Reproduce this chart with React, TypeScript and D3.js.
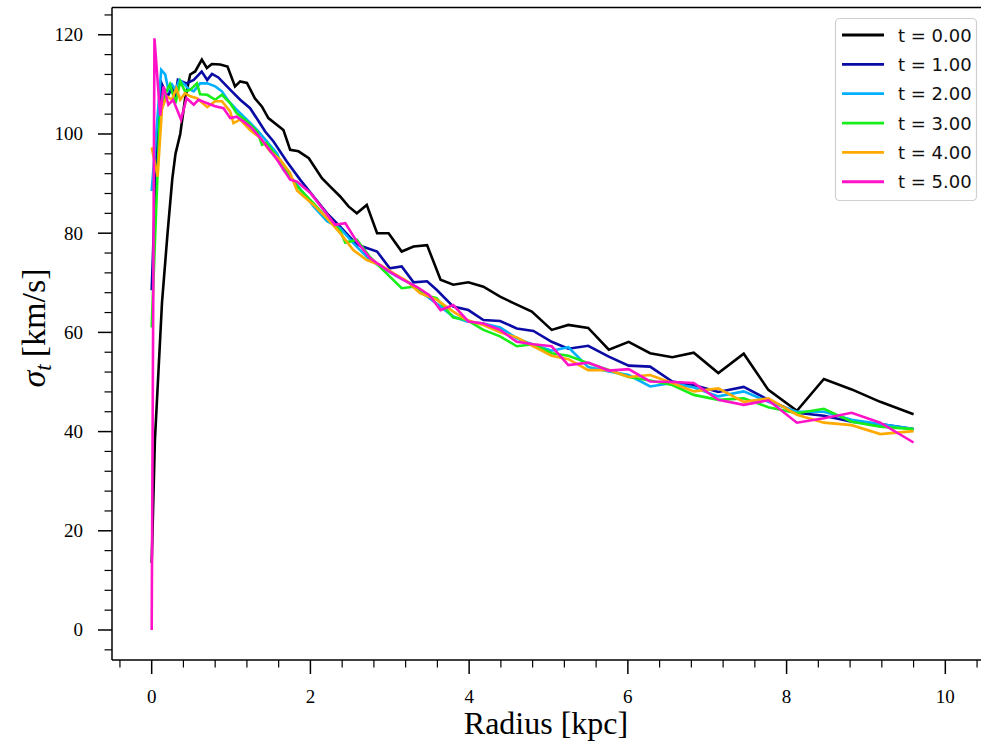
import React from "react";
import * as d3 from "d3";

const seriesLabels = ["t = 0.00", "t = 1.00", "t = 2.00", "t = 3.00", "t = 4.00", "t = 5.00"];
const seriesColors = ["#000000", "#0a0aa5", "#00b0ff", "#18ee18", "#ffaa00", "#ff12c8"];

const radiusT0 = [0, 0.04, 0.13, 0.2, 0.26, 0.3, 0.36, 0.42, 0.485, 0.548, 0.632, 0.695, 0.758, 0.863, 0.955, 1.05, 1.115, 1.2, 1.3, 1.39, 1.47, 1.66, 1.745, 1.85, 1.98, 2.145, 2.25, 2.375, 2.48, 2.585, 2.71, 2.84, 2.985, 3.15, 3.3, 3.47, 3.64, 3.8, 3.99, 4.18, 4.39, 4.56, 4.79, 5.04, 5.25, 5.5, 5.76, 6.01, 6.28, 6.56, 6.83, 7.14, 7.46, 7.77, 8.13, 8.47, 8.82, 9.18, 9.6];
const sigmaT0 = [13.5, 38, 66, 80, 91, 96, 100, 107, 112, 112.6, 115, 113.3, 114.1, 114, 113.6, 109.6, 110.6, 110.3, 107.2, 105.5, 103.2, 100.8, 96.8, 96.5, 95.1, 91.1, 89.4, 87.4, 85.4, 84.0, 85.7, 80.0, 80.0, 76.3, 77.3, 77.6, 70.6, 69.6, 70.1, 69.2, 67.2, 65.9, 64.2, 60.5, 61.5, 60.9, 56.5, 58.1, 55.8, 55.0, 55.9, 51.8, 55.7, 48.4, 44.2, 50.6, 48.5, 46.0, 43.5];

const radiusT1 = [0, 0.07, 0.13, 0.2, 0.26, 0.3, 0.33, 0.44, 0.53, 0.63, 0.7, 0.76, 0.84, 0.93, 1.01, 1.115, 1.24, 1.35, 1.43, 1.535, 1.7, 1.87, 2.04, 2.21, 2.375, 2.585, 2.84, 3.0, 3.15, 3.3, 3.47, 3.59, 3.8, 3.99, 4.18, 4.39, 4.6, 4.81, 5.04, 5.25, 5.5, 5.76, 6.01, 6.28, 6.56, 6.83, 7.14, 7.46, 7.77, 8.13, 8.47, 8.82, 9.18, 9.6];
const sigmaT1 = [68.5, 100, 110, 107.5, 109.5, 108, 110.9, 110.2, 110.9, 112.6, 110.9, 112.1, 111.4, 109.9, 108.6, 106.9, 105.2, 102.5, 100.5, 98.5, 94.5, 90.8, 87.4, 84.0, 81.3, 77.7, 76.3, 72.9, 73.3, 70.1, 70.3, 68.6, 65.2, 64.5, 62.5, 62.3, 60.8, 60.3, 58.1, 56.7, 57.3, 55.1, 53.3, 53.1, 50.1, 49.4, 48.0, 49.0, 46.4, 43.8, 43.2, 42.0, 41.5, 40.5];

const radiusT2 = [0, 0.12, 0.17, 0.21, 0.255, 0.3, 0.35, 0.4, 0.46, 0.53, 0.61, 0.7, 0.8, 0.885, 0.97, 1.07, 1.2, 1.33, 1.45, 1.58, 1.66, 1.83, 2.04, 2.21, 2.375, 2.54, 2.75, 2.92, 3.09, 3.26, 3.45, 3.64, 3.8, 3.97, 4.18, 4.39, 4.6, 4.81, 5.04, 5.25, 5.5, 5.76, 6.01, 6.28, 6.56, 6.83, 7.14, 7.46, 7.77, 8.13, 8.47, 8.82, 9.18, 9.6];
const sigmaT2 = [88.5, 112.9, 112, 108.9, 110, 108.9, 110.9, 110.2, 109.2, 108.6, 110.2, 110.2, 109.6, 108.6, 106.6, 104.9, 102.9, 100.8, 98.5, 96.1, 92.8, 89.8, 85.4, 82.4, 81.0, 78.0, 74.6, 72.9, 71.3, 69.9, 67.5, 65.2, 63.2, 62.2, 61.8, 61.0, 58.8, 57.5, 56.3, 57.0, 53.0, 52.1, 51.4, 49.1, 49.8, 48.9, 47.1, 48.1, 46.0, 44.0, 44.0, 42.4, 41.5, 40.5];

const radiusT3 = [0, 0.1, 0.17, 0.23, 0.3, 0.36, 0.42, 0.485, 0.57, 0.61, 0.7, 0.8, 0.885, 0.99, 1.07, 1.2, 1.33, 1.39, 1.45, 1.62, 1.83, 2.04, 2.21, 2.375, 2.44, 2.585, 2.75, 2.92, 3.15, 3.3, 3.45, 3.59, 3.8, 3.97, 4.18, 4.39, 4.6, 4.81, 5.04, 5.25, 5.5, 5.76, 6.01, 6.28, 6.56, 6.83, 7.14, 7.46, 7.77, 8.13, 8.47, 8.82, 9.18, 9.6];
const sigmaT3 = [61, 103, 108, 110, 106.2, 110.6, 108.6, 108.9, 110.2, 108, 107.9, 106.9, 107.9, 106.2, 104.2, 102.5, 100.5, 97.8, 98.2, 94.5, 89.5, 86, 83, 80.5, 78.1, 78.7, 75.2, 72.5, 68.9, 69.2, 67.5, 66.9, 63.0, 62.5, 60.5, 59.2, 57.2, 57.6, 55.8, 55.3, 53.8, 52.4, 51.0, 50.3, 49.4, 47.4, 46.4, 46.7, 44.9, 43.7, 44.6, 42.0, 41.0, 40.5];

const radiusT4 = [0, 0.075, 0.13, 0.19, 0.255, 0.31, 0.36, 0.42, 0.485, 0.57, 0.7, 0.8, 0.885, 0.99, 1.03, 1.115, 1.24, 1.37, 1.49, 1.62, 1.745, 1.83, 2.04, 2.21, 2.375, 2.54, 2.71, 2.88, 3.05, 3.22, 3.38, 3.59, 3.8, 3.97, 4.18, 4.39, 4.6, 4.81, 5.04, 5.25, 5.5, 5.76, 6.01, 6.28, 6.56, 6.83, 7.14, 7.46, 7.77, 8.13, 8.47, 8.82, 9.18, 9.6];
const sigmaT4 = [97.3, 91.4, 105.2, 107.6, 106.9, 109.2, 106.9, 108.2, 107.6, 107.2, 105.4, 106.6, 106.6, 104.5, 102.2, 102.9, 100.8, 99.2, 96.5, 94.8, 92.1, 88.6, 85.7, 83.0, 80.0, 76.6, 74.6, 73.6, 71.9, 70.3, 67.9, 66.6, 64.2, 62.5, 61.5, 60.0, 59.0, 57.2, 55.3, 54.6, 52.4, 52.4, 51.0, 51.4, 49.8, 48.1, 48.7, 46.0, 46.7, 43.4, 41.8, 41.3, 39.5, 40.1];

const radiusT5 = [0, 0.035, 0.107, 0.15, 0.21, 0.27, 0.37, 0.44, 0.53, 0.59, 0.7, 0.8, 0.905, 0.99, 1.07, 1.16, 1.26, 1.37, 1.58, 1.745, 1.83, 2.0, 2.165, 2.31, 2.44, 2.585, 2.75, 2.96, 3.17, 3.34, 3.5, 3.64, 3.8, 3.99, 4.18, 4.39, 4.6, 4.81, 5.04, 5.25, 5.5, 5.76, 6.01, 6.28, 6.56, 6.83, 7.14, 7.46, 7.77, 8.13, 8.47, 8.82, 9.18, 9.6];
const sigmaT5 = [0, 119.3, 103.7, 109.6, 105.9, 106.9, 102.9, 107.2, 105.9, 106.9, 106.2, 105.6, 105.2, 103.2, 103.5, 102.5, 101.2, 99.2, 94.8, 90.8, 90.4, 88.1, 84.7, 81.7, 82.0, 78.3, 75.0, 72.6, 70.6, 69.2, 67.5, 64.5, 65.5, 62.2, 61.8, 60.5, 58.1, 57.6, 57.2, 53.4, 53.9, 52.3, 52.6, 50.1, 50.0, 49.8, 46.4, 45.4, 46.3, 41.8, 42.7, 43.8, 41.8, 37.8];

const radii = [radiusT0, radiusT1, radiusT2, radiusT3, radiusT4, radiusT5];
const sigmas = [sigmaT0, sigmaT1, sigmaT2, sigmaT3, sigmaT4, sigmaT5];

const xMajorTicks = [0, 2, 4, 6, 8, 10];
const yMajorTicks = [0, 20, 40, 60, 80, 100, 120];

const W = 981;
const H = 749;
const L = 112, R = 985, T = 7.5, B = 660;

export default function App() {
  const x = d3.scaleLinear().domain([-0.5, 10.5]).range([L, R]);
  const y = d3.scaleLinear().domain([-6.05, 125.5]).range([B, T]);
  const line = d3.line<[number, number]>().x((d) => x(d[0])).y((d) => y(d[1]));

  const xMinor = d3.range(-0.4, 10.45, 0.4).filter((v) => xMajorTicks.every((m) => Math.abs(m - v) > 1e-6));
  const yMinor = d3.range(-4, 125, 4).filter((v) => yMajorTicks.every((m) => Math.abs(m - v) > 1e-6));

  const serif = "'Liberation Serif', 'DejaVu Serif', serif";
  const sans = "'DejaVu Sans', sans-serif";

  return (
    <svg width={W} height={H} style={{ position: "absolute", left: 0, top: 0, background: "#fff" }}>
      <rect x={0} y={0} width={W} height={H} fill="#fff" />
      {radii.map((rs, i) => (
        <path
          key={i}
          d={line(rs.map((r, j) => [r, sigmas[i][j]] as [number, number])) || ""}
          fill="none"
          stroke={seriesColors[i]}
          strokeWidth={2.6}
          strokeLinejoin="miter"
        />
      ))}
      {/* spines */}
      <line x1={L} x2={L} y1={T} y2={B} stroke="#000" strokeWidth={1.5} />
      <line x1={L} x2={R} y1={B} y2={B} stroke="#000" strokeWidth={1.5} />
      <line x1={L} x2={R} y1={T} y2={T} stroke="#000" strokeWidth={1.5} />
      {/* x ticks */}
      {xMajorTicks.map((v) => (
        <g key={"xM" + v}>
          <line x1={x(v)} x2={x(v)} y1={B} y2={B + 14} stroke="#000" strokeWidth={1.5} />
          <text x={x(v)} y={703} textAnchor="middle" fontFamily={serif} fontSize={19}>
            {v}
          </text>
        </g>
      ))}
      {xMinor.map((v, i) => (
        <line key={"xm" + i} x1={x(v)} x2={x(v)} y1={B} y2={B + 7.5} stroke="#000" strokeWidth={1.2} />
      ))}
      {/* y ticks */}
      {yMajorTicks.map((v) => (
        <g key={"yM" + v}>
          <line x1={L - 14} x2={L} y1={y(v)} y2={y(v)} stroke="#000" strokeWidth={1.5} />
          <text x={83} y={y(v) + 6.5} textAnchor="end" fontFamily={serif} fontSize={19}>
            {v}
          </text>
        </g>
      ))}
      {yMinor.map((v, i) => (
        <line key={"ym" + i} x1={L - 7.5} x2={L} y1={y(v)} y2={y(v)} stroke="#000" strokeWidth={1.2} />
      ))}
      {/* axis labels */}
      <text x={546} y={734} textAnchor="middle" fontFamily={serif} fontSize={32}>
        Radius [kpc]
      </text>
      <text transform="translate(45,328) rotate(-90)" textAnchor="middle" fontFamily={serif} fontSize={34}>
        <tspan fontStyle="italic">σ</tspan>
        <tspan fontStyle="italic" fontSize={23} dy={6}>t</tspan>
        <tspan dy={-6} dx={7}>[km/s]</tspan>
      </text>
      {/* legend */}
      <rect x={835.5} y={18.5} width={141} height={182} rx={4} ry={4} fill="#fff" fillOpacity={0.85} stroke="#d0d0d0" strokeWidth={1.2} />
      {seriesLabels.map((lab, i) => {
        const ly = 35 + i * 29.35;
        return (
          <g key={lab}>
            <line x1={842} x2={884} y1={ly} y2={ly} stroke={seriesColors[i]} strokeWidth={2.8} />
            <text x={898} y={ly + 6.5} fontFamily={sans} fontSize={18} fill="#111">
              {lab}
            </text>
          </g>
        );
      })}
    </svg>
  );
}
